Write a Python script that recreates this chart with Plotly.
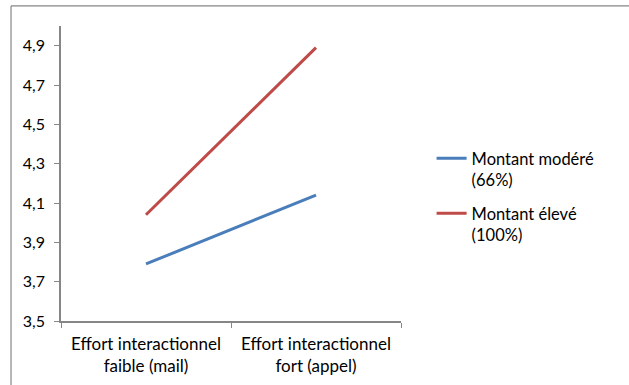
import plotly.graph_objects as go

categories = ["Effort interactionnel<br>faible (mail)", "Effort interactionnel<br>fort (appel)"]
series_names = ["Montant modéré<br>(66%)", "Montant élevé<br>(100%)"]
moderate = [3.79, 4.14]
high = [4.04, 4.89]
y_ticks = [3.5, 3.7, 3.9, 4.1, 4.3, 4.5, 4.7, 4.9]

FONT = "Lato, 'Open Sans', sans-serif"
GRID = "#868686"

fig = go.Figure()
fig.add_trace(go.Scatter(x=categories, y=moderate, mode="lines", name=series_names[0],
                         legendgroup="mod", line=dict(color="#4a7ebb", width=3)))
fig.add_trace(go.Scatter(x=categories, y=high, mode="lines", name=series_names[1],
                         legendgroup="high", line=dict(color="#be4b48", width=3)))

# outer chart frame
frame = dict(xref="paper", yref="paper", type="line", line=dict(color=GRID, width=1.2))
shapes = [
    dict(frame, x0=-0.147, x1=1.75, y0=1.068, y1=1.068),
    dict(frame, x0=-0.147, x1=-0.147, y0=1.068, y1=-0.35),
]

fig.update_layout(
    width=629, height=385,
    margin=dict(l=61, r=228, t=26, b=64, autoexpand=False),
    paper_bgcolor="white", plot_bgcolor="white",
    separators=", ",
    font=dict(family=FONT, size=16, color="#000000"),
    showlegend=True,
    legend=dict(x=1.09, y=0.61, xanchor="left", yanchor="top", valign="top",
                traceorder="grouped", font=dict(size=16.5), tracegroupgap=9,
                itemwidth=30, bgcolor="rgba(0,0,0,0)"),
    shapes=shapes,
)
fig.update_xaxes(showline=True, linecolor=GRID, linewidth=1.5, ticks="outside",
                 tickson="boundaries", ticklen=5, tickcolor=GRID, range=[-0.5, 1.5],
                 tickfont=dict(size=17), ticklabelstandoff=7, automargin=False,
                 showgrid=False, zeroline=False, fixedrange=True)
fig.update_yaxes(range=[3.5, 5.0], tickvals=y_ticks, tickformat=".1f",
                 showline=True, linecolor=GRID, linewidth=1.5, ticks="outside",
                 ticklen=5, tickcolor=GRID, showgrid=False, zeroline=False,
                 ticklabelstandoff=6, automargin=False)

fig.write_html("out.html")
